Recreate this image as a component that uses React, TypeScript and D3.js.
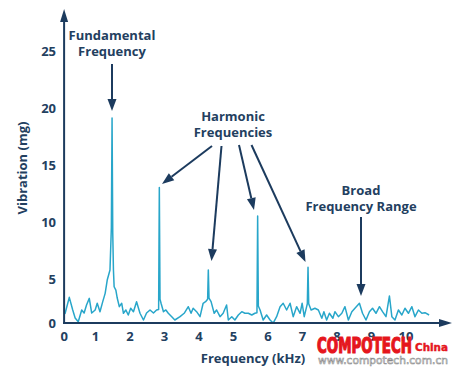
import React from "react";
import * as d3 from "d3";

// spectrum: frequency (kHz) and vibration (mg)
const freq = [
  0.09, 0.12, 0.24, 0.34, 0.41, 0.5, 0.6, 0.67, 0.74, 0.82, 0.89, 0.99, 1.05, 1.13, 1.21, 1.28, 1.34, 1.42,
  1.46, 1.48, 1.5, 1.52, 1.54, 1.59, 1.63, 1.69, 1.76, 1.81, 1.88, 1.95, 2.02, 2.1, 2.19, 2.29, 2.39, 2.48,
  2.58, 2.68, 2.77, 2.83, 2.85, 2.87, 2.9, 2.97, 3.04, 3.11, 3.21, 3.3, 3.45, 3.57, 3.69, 3.77, 3.83, 3.93,
  4.03, 4.12, 4.19, 4.25, 4.27, 4.29, 4.35, 4.44, 4.51, 4.61, 4.7, 4.8, 4.85, 4.95, 5.04, 5.14, 5.24, 5.33,
  5.43, 5.53, 5.62, 5.68, 5.7, 5.72, 5.77, 5.86, 5.96, 6.06, 6.15, 6.25, 6.35, 6.44, 6.54, 6.64, 6.73, 6.83,
  6.93, 6.99, 7.05, 7.12, 7.14, 7.16, 7.18, 7.25, 7.36, 7.46, 7.56, 7.62, 7.7, 7.78, 7.88, 7.94, 8.04, 8.14,
  8.23, 8.33, 8.43, 8.52, 8.65, 8.74, 8.84, 8.94, 9.03, 9.13, 9.23, 9.32, 9.42, 9.52, 9.59, 9.68, 9.78, 9.88,
  9.97, 10.07, 10.17, 10.26, 10.36, 10.46, 10.55, 10.67,
];
const vibration = [
  1.9, 1.96, 3.36, 2.25, 1.55, 1.22, 2.25, 1.98, 2.69, 3.27, 1.98, 2.25, 2.84, 2.1, 2.98, 3.71, 4.88, 5.76,
  9.5, 19.1, 9.0, 5.76, 4.29, 4.0, 3.3, 2.54, 2.84, 1.96, 2.25, 1.81, 2.4, 2.1, 2.98, 1.96, 1.37, 1.98,
  2.25, 1.98, 2.25, 2.3, 13.0, 3.2, 2.84, 2.1, 2.25, 1.96, 1.66, 1.37, 1.66, 1.96, 2.54, 1.96, 2.4, 2.1,
  1.66, 2.84, 2.98, 3.2, 5.76, 3.3, 2.98, 1.96, 2.25, 1.66, 1.96, 2.69, 1.37, 1.66, 1.37, 1.81, 2.1, 1.96,
  1.96, 1.81, 1.96, 2.0, 10.5, 2.6, 2.25, 1.37, 1.81, 1.37, 1.1, 1.66, 2.54, 2.84, 2.25, 2.84, 1.66, 2.54,
  1.96, 2.84, 1.66, 2.54, 2.8, 6.0, 2.8, 2.25, 2.4, 2.25, 1.52, 2.1, 1.37, 1.96, 1.52, 2.1, 1.66, 1.96,
  2.54, 1.37, 2.1, 2.4, 2.84, 1.96, 1.37, 2.1, 2.4, 1.96, 2.54, 2.1, 1.66, 3.48, 1.66, 1.37, 2.25, 1.81,
  2.4, 1.96, 2.54, 1.66, 2.25, 1.96, 2.01, 1.81,
];
const xTicks = [1, 2, 3, 4, 5, 6, 7, 8, 9, 10];
const yTicks = [5, 10, 15, 20, 25];
const axisOrigin = { f: 0.09, v: 1.1 }; // where the drawn axes cross

const W = 456;
const H = 369;
const NAVY = "#1c3b5e";
const TEXT = "#23405f";
const CYAN = "#28a6ca";
const RED = "#e5161d";
const FONT = "'Open Sans', 'DejaVu Sans', sans-serif";
const CONDENSED = "'DejaVu Sans Condensed', 'Liberation Sans Narrow', 'DejaVu Sans', sans-serif";

const x = d3.scaleLinear().domain([0, 10]).range([61, 406]);
const y = d3.scaleLinear().domain([0, 25]).range([335.6, 50.9]);

// straight arrow with a filled head at (x2, y2)
function Arrow({ x1, y1, x2, y2, head = 12, half = 4.5, w = 2 }) {
  const a = Math.atan2(y2 - y1, x2 - x1);
  const bx = x2 - head * Math.cos(a);
  const by = y2 - head * Math.sin(a);
  const px = -Math.sin(a) * half;
  const py = Math.cos(a) * half;
  return (
    <g>
      <line x1={x1} y1={y1} x2={bx} y2={by} stroke={NAVY} strokeWidth={w} />
      <path d={`M${x2},${y2}L${bx + px},${by + py}L${bx - px},${by - py}Z`} fill={NAVY} />
    </g>
  );
}

export default function App() {
  const pts = freq.map((f, i) => [f, vibration[i]] as [number, number]);
  const line = d3
    .line<[number, number]>()
    .x((d) => x(d[0]))
    .y((d) => y(d[1]));

  const x0 = x(axisOrigin.f);
  const y0 = y(axisOrigin.v);

  const label = { fontFamily: FONT, fontWeight: 700, fill: TEXT, fontSize: 13 };

  return (
    <svg width={W} height={H} style={{ position: "absolute", left: 0, top: 0, background: "#fff" }}>
      <path d={line(pts) || ""} fill="none" stroke={CYAN} strokeWidth={1.5} strokeLinejoin="round" />

      {/* axes */}
      <Arrow x1={x0} y1={y0 + 1} x2={x0} y2={9} head={13} half={4} />
      <Arrow x1={x0 - 1} y1={y0} x2={452} y2={y0} head={13} half={4} />

      {/* tick labels */}
      <text x={x0} y={y0 + 18} textAnchor="middle" {...label}>0</text>
      {xTicks.map((t) => (
        <text key={t} x={x(t)} y={y0 + 18} textAnchor="middle" {...label}>
          {t}
        </text>
      ))}
      <text x={56} y={y0 + 5} textAnchor="end" {...label}>0</text>
      {yTicks.map((t) => (
        <text key={t} x={56} y={y(t) + 5} textAnchor="end" {...label}>
          {t}
        </text>
      ))}

      {/* axis titles */}
      <text x={253} y={363} textAnchor="middle" {...label}>Frequency (kHz)</text>
      <text transform="translate(27,168) rotate(-90)" textAnchor="middle" {...label}>Vibration (mg)</text>

      {/* annotations */}
      <text x={112} y={40} textAnchor="middle" {...label}>Fundamental</text>
      <text x={112} y={56} textAnchor="middle" {...label}>Frequency</text>
      <Arrow x1={112} y1={64} x2={112} y2={111} />

      <text x={233} y={121} textAnchor="middle" {...label}>Harmonic</text>
      <text x={233} y={137} textAnchor="middle" {...label}>Frequencies</text>
      <Arrow x1={212} y1={146} x2={162} y2={184} />
      <Arrow x1={221.5} y1={146} x2={211.5} y2={261} />
      <Arrow x1={239} y1={145} x2={254} y2={210} />
      <Arrow x1={251.5} y1={145} x2={305.5} y2={262} />

      <text x={361} y={195} textAnchor="middle" {...label}>Broad</text>
      <text x={361} y={211} textAnchor="middle" {...label}>Frequency Range</text>
      <Arrow x1={361} y1={217} x2={361} y2={296} />

      {/* watermark */}
      <text x={317} y={353} fill={RED} stroke={RED} strokeWidth={1.2} fontFamily={CONDENSED}
        fontWeight={700} fontSize={21} textLength={95} lengthAdjust="spacingAndGlyphs">COMPOTECH</text>
      <text x={415} y={351} fill={RED} stroke={RED} strokeWidth={0.4} fontFamily={CONDENSED}
        fontWeight={700} fontSize={11} textLength={33} lengthAdjust="spacingAndGlyphs">China</text>
      <text x={318} y={364} fill="#ffffff" stroke="#8a8a8a" strokeWidth={0.6} fontFamily="'DejaVu Sans', sans-serif"
        fontSize={11} textLength={130} lengthAdjust="spacingAndGlyphs">www.compotech.com.cn</text>
    </svg>
  );
}
